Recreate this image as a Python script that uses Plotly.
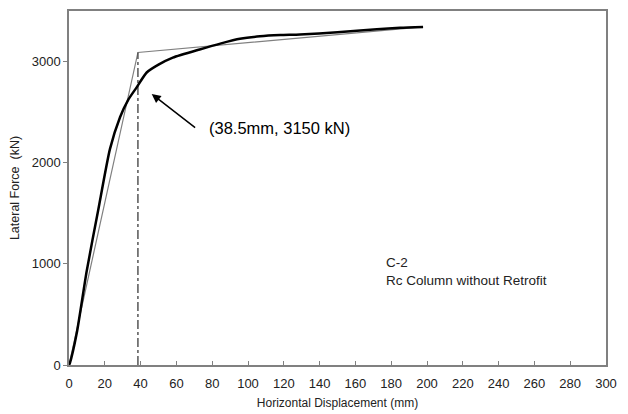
import plotly.graph_objects as go

# Experimental curve (thick)
exp_disp = [0, 0.5, 4.3, 9.9, 16.3, 22.9, 28.5, 33.0, 37.8, 43.4, 50, 58, 73, 85, 95.5, 106.7, 118, 129, 150, 172, 185, 197.8]
exp_force = [0, 20, 313, 930, 1530, 2137, 2450, 2620, 2745, 2892, 2970, 3039, 3120, 3180, 3225, 3250, 3262, 3268, 3290, 3320, 3335, 3343]

# Idealized bilinear curve (thin)
bil_disp = [0, 38.5, 197.8]
bil_force = [0, 3090, 3343]

# Yield line
yield_disp = [38.5, 38.5]
yield_force = [0, 3090]

fig = go.Figure()
fig.add_trace(go.Scatter(x=bil_disp, y=bil_force, mode="lines",
                         line=dict(color="#808080", width=1.2), showlegend=False))
fig.add_trace(go.Scatter(x=yield_disp, y=yield_force, mode="lines",
                         line=dict(color="#555555", width=1.5, dash="dashdot"), showlegend=False))
fig.add_trace(go.Scatter(x=exp_disp, y=exp_force, mode="lines", line_shape="spline",
                         line=dict(color="black", width=2.5, smoothing=0.6), showlegend=False))

fig.add_annotation(x=46.2, y=2680, ax=71.3, ay=2336, xref="x", yref="y", axref="x", ayref="y",
                   text="", showarrow=True, arrowhead=2, arrowsize=1.2, arrowwidth=1.5, arrowcolor="black")
fig.add_annotation(x=77, y=2343, xref="x", yref="y", text="(38.5mm, 3150 kN)", showarrow=False,
                   xanchor="left", yanchor="middle", font=dict(size=16.5, color="black", family="Liberation Sans"))
fig.add_annotation(x=176, y=920, xref="x", yref="y", text="C-2<br>Rc Column without Retrofit",
                   showarrow=False, xanchor="left", yanchor="middle", align="left",
                   font=dict(size=13.5, color="#222222", family="Liberation Sans"))

fig.update_layout(
    width=620, height=406,
    margin=dict(l=61, r=22, t=1, b=49),
    paper_bgcolor="white", plot_bgcolor="white",
    font=dict(family="Liberation Sans", color="#222222", size=12),
)
fig.update_xaxes(range=[0, 300], tickvals=list(range(0, 301, 20)), ticks="inside", ticklen=4,
                 tickcolor="#808080", showgrid=False, zeroline=False,
                 showline=True, linecolor="#808080", linewidth=1.5, mirror=True,
                 ticklabelstandoff=6,
                 title=dict(text="Horizontal Displacement (mm)", font=dict(size=12), standoff=8),
                 tickfont=dict(size=13))
fig.update_yaxes(range=[0, 3500], tickvals=[0, 1000, 2000, 3000], ticks="outside", ticklen=4,
                 tickcolor="#808080", showgrid=False, zeroline=False,
                 showline=True, linecolor="#808080", linewidth=1.5, mirror=True,
                 title=dict(text="Lateral Force  (kN)", font=dict(size=12.5), standoff=12),
                 tickfont=dict(size=13))

fig.write_html("out.html")
